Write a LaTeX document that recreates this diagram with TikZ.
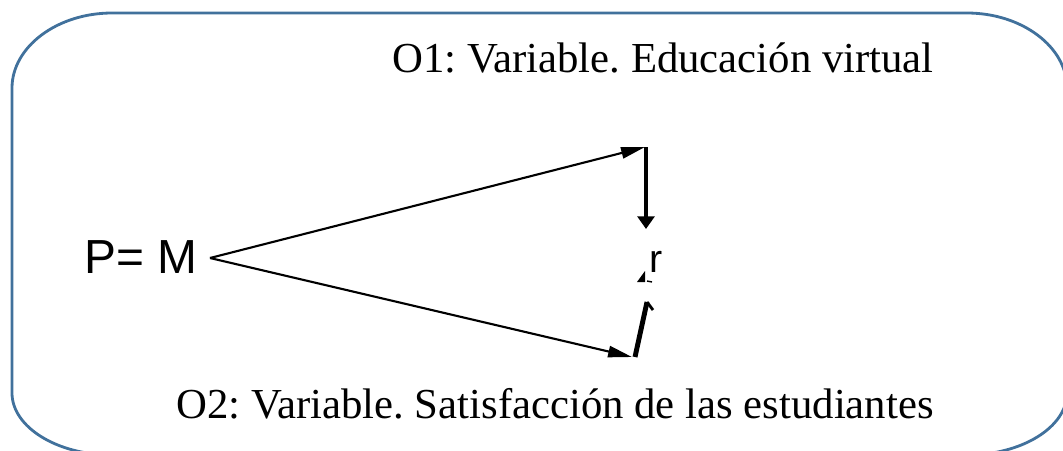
\documentclass[tikz,border=0pt]{standalone}
\usepackage{fontspec}
\setmainfont{Liberation Serif}
\setsansfont{Liberation Sans}
\usepackage{tikz}
\usetikzlibrary{arrows.meta,positioning,calc}
\usepackage{xcolor}
\definecolor{fframe}{HTML}{41719C}
\frenchspacing
\tikzset{
  frame/.style    = {draw=fframe, line width=2pt},
  sig/.style      = {-{Triangle[length=17pt,width=8pt]}, line width=1.5pt},
  thicksig/.style = {-{Triangle[length=9pt,width=12pt]}, line width=3.5pt},
  stub/.style     = {line width=3.5pt},
  olabel/.style   = {font=\fontsize{30.4}{36}\selectfont, inner sep=0pt, anchor=base east},
}

\begin{document}
\begin{tikzpicture}[x=0.025cm,y=-0.025cm]
\useasboundingbox (0,0) rectangle (1063,450);
\clip (0,0) rectangle (1063,450);
% outer frame, bottom runs past the page
\draw[frame] (12,88) .. controls (12,47) and (57,13) .. (112,13)
  -- (967,13) .. controls (1022,13) and (1067,47) .. (1067,88)
  -- (1067,393) .. controls (1067,427) and (1022,455) .. (967,455)
  -- (112,455) .. controls (57,455) and (12,427) .. (12,393) -- cycle;
% labels
\node[olabel] (o1) at (934,72) {O1: Variable. Educación virtual};
\node[olabel] (o2) at (934,418) {O2: Variable. Satisfacción de las estudiantes};
\node[font=\sffamily\fontsize{34}{40}\selectfont, inner sep=0pt, anchor=base west] (pm) at (84,273) {P= M};
\node[font=\sffamily\fontsize{28}{32}\selectfont, inner sep=0pt, anchor=base west] (r) at (649,272) {r};
% points
\coordinate (m) at (210,258);
\coordinate (up) at (645,147);
\coordinate (lo) at (632,357);
\coordinate (vtop) at (646,147);
\coordinate (vbot) at (646,229);
\coordinate (btop) at (647,302);
\coordinate (bbot) at (635,357);
\coordinate (bhook) at (653,310);
% arrows from M
\draw[sig] (m) -- (up);
\draw[sig] (m) -- (lo);
% r link, lower half partly hidden
\draw[thicksig] (vtop) -- (vbot);
\draw[stub] (bbot) -- (btop);
\draw[line width=2pt] (btop) -- (bhook);
\fill (637,282) -- (645,271) -- (645,282) -- cycle;
\draw[line width=1pt] (647,281) -- (652,282);
\end{tikzpicture}
\end{document}
